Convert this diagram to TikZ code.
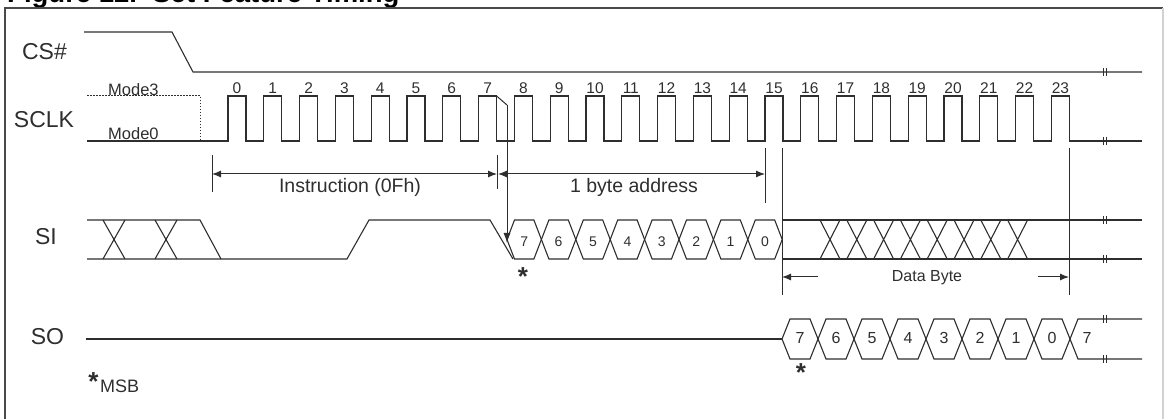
\documentclass[tikz,border=0pt]{standalone}
\usepackage{fontspec}
\setmainfont{Liberation Sans}
\usepackage{xcolor}
\usepackage{tikz}
\usetikzlibrary{calc,arrows.meta}
\definecolor{ink}{HTML}{2E2E2E}
\definecolor{rule}{HTML}{4A4A4A}
\definecolor{pale}{HTML}{D2D2D2}
\tikzset{
  wave/.style={draw=ink, line width=1.1pt},
  tickline/.style={draw=ink, line width=1pt},
  dotline/.style={draw=ink, line width=1pt, dash pattern=on 1.5pt off 1.5pt},
  dim/.style={draw=ink, line width=1pt, {Latex[length=9pt,width=7pt]}-{Latex[length=9pt,width=7pt]}},
  sig/.style={text=ink, font=\fontsize{23}{23}\selectfont, inner sep=0pt, anchor=base},
  clk/.style={text=ink, font=\fontsize{15.5}{16}\selectfont, inner sep=0pt, anchor=base},
  mode/.style={text=ink, font=\fontsize{16.5}{17}\selectfont, inner sep=0pt, anchor=base west},
  note/.style={text=ink, font=\fontsize{19.5}{20}\selectfont, inner sep=0pt, anchor=base},
  bitsi/.style={text=ink, font=\fontsize{14}{14}\selectfont, inner sep=0pt, anchor=base},
  bitso/.style={text=ink, font=\fontsize{16}{16}\selectfont, inner sep=0pt, anchor=base},
  msbstar/.style={text=ink, font=\fontsize{26}{26}\selectfont\bfseries, inner sep=0pt, anchor=north}
}

\begin{document}
\begin{tikzpicture}[x=1pt, y=-1pt]
  \useasboundingbox (0,0) rectangle (1165,419);

  % title, cut at the top, and frame
  \node[anchor=base west, inner sep=0pt, font=\fontsize{27.5}{28}\selectfont\bfseries] (title) at (7,3) {Figure 12.\ \ Set Feature Timing};
  \draw[rule, line width=1.6pt] (5,419) -- (5,8) -- (1163,8);
  \draw[pale, line width=1.2pt] (1163,8) -- (1163,419);

  \node[sig] (cs)   at (44.5,60)  {CS\#};
  \node[sig] (sclk) at (44,128)   {SCLK};
  \node[sig] (si)   at (46,245)   {SI};
  \node[sig] (so)   at (47.5,345) {SO};

  % CS#
  \draw[wave] (84,32) -- (172,32) -- (193,72) -- (1142,72);

  % SCLK
  \draw[dotline] (87,96) -- (200,96) -- (200,141);
  \node[mode] (m3) at (108,96) {Mode3};
  \node[mode] (m0) at (108,140) {Mode0};
  \draw[wave] (87,141) \foreach \i in {0,...,23} {
      -- ({228+35.8*\i},141) -- ({228+35.8*\i},96)
      -- ({246+35.8*\i},96) -- ({246+35.8*\i},141)} -- (1142,141);
  \foreach \i in {0,...,23}
    \node[clk] (c\i) at ({237+35.8*\i},94) {\i};

  \coordinate (k7) at (496.6,96);
  \coordinate (k7b) at (507,105);
  \coordinate (msbin) at (507,243);
  \draw[tickline] (k7) -- (k7b);
  \draw[tickline, -{Latex[length=10pt,width=7pt]}] (k7b) -- (msbin);

  % spans
  \draw[tickline] (212,155) -- (212,192);
  \draw[tickline] (497,155) -- (497,189);
  \draw[tickline] (765,148) -- (765,203);
  \draw[tickline] (782,148) -- (782,295);
  \draw[tickline] (1069,148) -- (1069,295);
  \coordinate (insl) at (212,174);
  \coordinate (insr) at (497,174);
  \coordinate (adrl) at (498,174);
  \coordinate (adrr) at (765,174);
  \draw[dim] (insl) -- (insr);
  \draw[dim] (adrl) -- (adrr);
  \node[note] (ins) at (350,193) {Instruction (0Fh)};
  \node[note] (adr) at (634,193) {1 byte address};

  \coordinate (dbl) at (782,277);
  \coordinate (dbr) at (1069,277);
  \draw[tickline, -{Latex[length=9pt,width=7pt]}] (818,277) -- (dbl);
  \draw[tickline, -{Latex[length=9pt,width=7pt]}] (1038,277) -- (dbr);
  \node[text=ink, font=\fontsize{16}{16}\selectfont, inner sep=0pt, anchor=base] (db) at (927,282) {Data Byte};

  % SI
  \draw[wave] (87,220) -- (200,220) -- (221,259);
  \draw[wave] (87,259) -- (347,259) -- (369,220) -- (490,220) -- (513,259);
  \foreach \x in {103,155}
    \draw[wave] (\x,220) -- ++(22,39) (\x,259) -- ++(22,-39);
  \foreach \b [count=\k from 0] in {7,6,5,4,3,2,1,0} {
    \pgfmathsetmacro\a{507+34.4*\k}
    \draw[wave] (\a,239.5) -- ++(7.5,-19.5) -- ++(19.4,0) -- ++(7.5,19.5)
      -- ++(-7.5,19.5) -- ++(-19.4,0) -- cycle;
    \node[bitsi] (sib\k) at (\a+17.2,247) {\b};
  }
  \draw[wave] (782,220) -- (1142,220) (782,259) -- (1142,259);
  \foreach \i in {0,...,7}
    \draw[wave] ({820+26.8*\i},220) -- ++(20,39) ({820+26.8*\i},259) -- ++(20,-39);

  % SO
  \draw[wave] (86,339) -- (782,339);
  \foreach \b [count=\k from 0] in {7,6,5,4,3,2,1,0} {
    \pgfmathsetmacro\a{782+36*\k}
    \draw[wave] (\a,339) -- ++(8,-20) -- ++(20,0) -- ++(8,20)
      -- ++(-8,20) -- ++(-20,0) -- cycle;
    \node[bitso] (sob\k) at (\a+18,344) {\b};
  }
  \draw[wave] (1142,319) -- (1078,319) -- (1070,339) -- (1078,359) -- (1142,359);
  \node[bitso] (sob8) at (1087,344) {7};

  % breaks
  \foreach \y in {72,141,220,259,319,359}
    \draw[tickline] (1103.5,\y-4) -- (1103.5,\y+4) (1106.5,\y-4) -- (1106.5,\y+4);

  % MSB marks
  \node[msbstar] (st1) at (523,267) {*};
  \node[msbstar] (st2) at (801,363) {*};
  \node[msbstar] (st3) at (93.5,372) {*};
  \node[text=ink, font=\fontsize{18}{18}\selectfont, inner sep=0pt, anchor=base west] (msb) at (100,393) {MSB};
\end{tikzpicture}
\end{document}
